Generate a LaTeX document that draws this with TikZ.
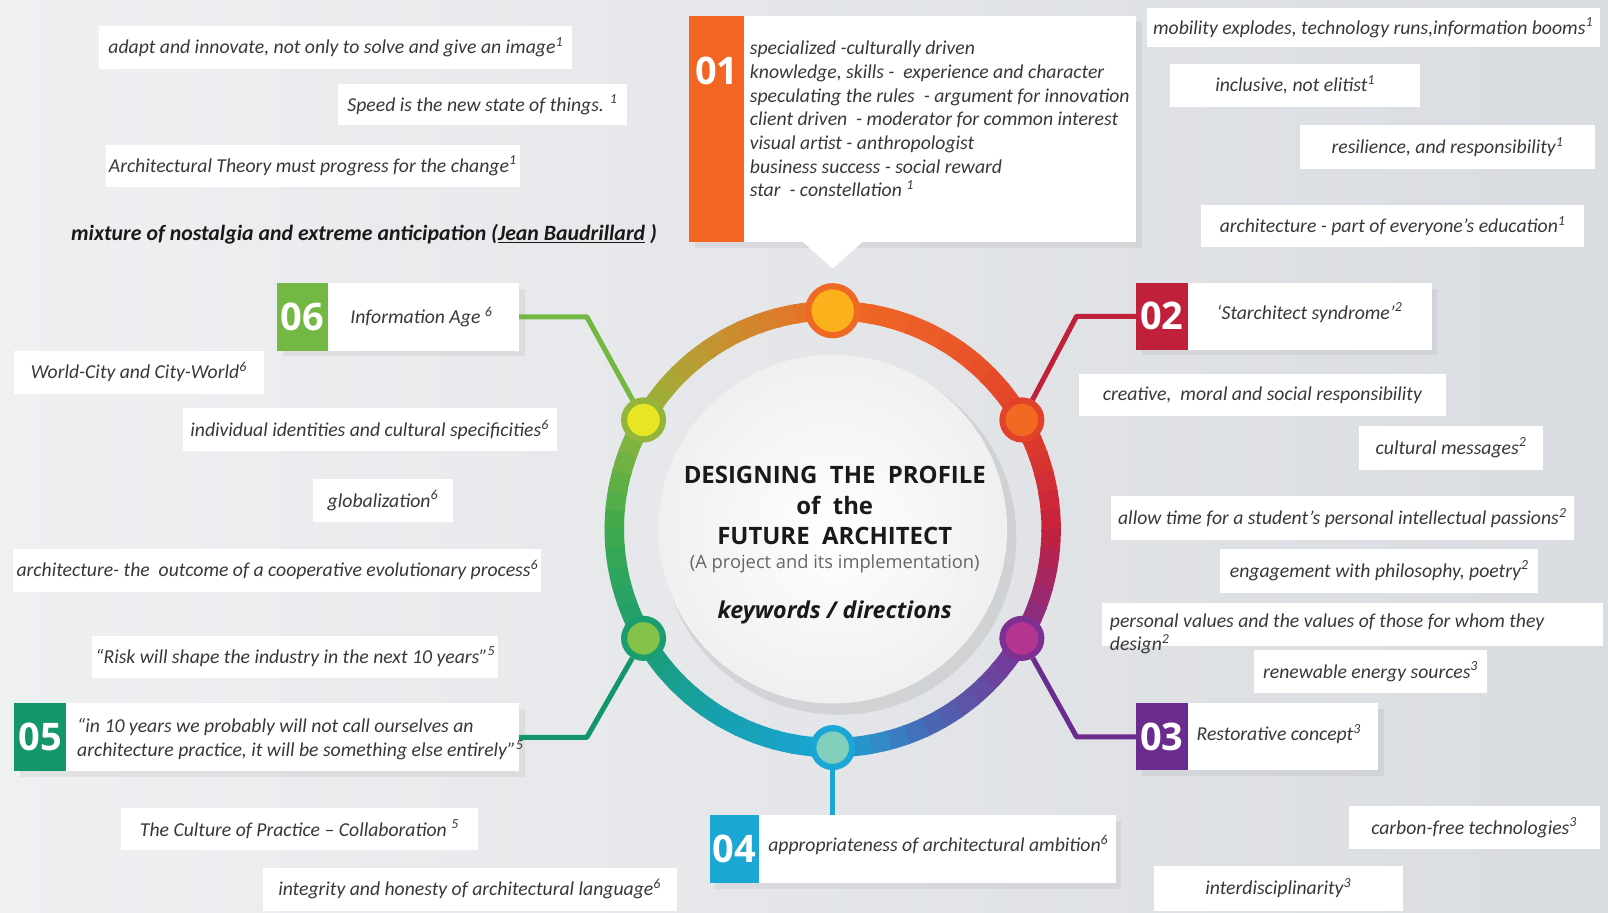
\documentclass[tikz,border=0pt]{standalone}
\usepackage{fontspec}
\setmainfont{Carlito}
\newfontfamily\titlefont{Open Sans}
\usetikzlibrary{shadows}

\definecolor{bgL}{HTML}{EFF0F2}
\definecolor{bgR}{HTML}{D9DCE0}
\definecolor{ink}{HTML}{383838}
\definecolor{c01}{HTML}{F26522}
\definecolor{c02}{HTML}{C1203A}
\definecolor{c03}{HTML}{6A2C8F}
\definecolor{c04}{HTML}{1AA7D4}
\definecolor{c05}{HTML}{14966C}
\definecolor{c06}{HTML}{73B843}
% ring colours, by angle
\definecolor{r090}{HTML}{EE6A24}
\definecolor{r060}{HTML}{EC5A28}
\definecolor{r030}{HTML}{E2412A}
\definecolor{r000}{HTML}{C5203C}
\definecolor{r330}{HTML}{7E3092}
\definecolor{r300}{HTML}{5060B0}
\definecolor{r270}{HTML}{1AA6D6}
\definecolor{r240}{HTML}{17A0B0}
\definecolor{r210}{HTML}{1A9E70}
\definecolor{r180}{HTML}{3DAA4D}
\definecolor{r150}{HTML}{93B63A}
\definecolor{r120}{HTML}{C89030}
% dot fillings
\definecolor{f01}{HTML}{FBB11C}
\definecolor{f02}{HTML}{F26A22}
\definecolor{f03}{HTML}{B4358F}
\definecolor{f04}{HTML}{7FCFBA}
\definecolor{f05}{HTML}{84C24A}
\definecolor{f06}{HTML}{E8E524}

\def\u{0.0256cm}

\begin{document}
\begin{tikzpicture}[x=0.0256cm, y=0.0256cm,
	kbox/.style={fill=white, inner sep=0pt, text=ink,
		font=\fontsize{14}{16}\selectfont\itshape},
	ktext/.style={inner sep=0pt, text=ink, align=left,
		font=\fontsize{14}{16.8}\selectfont\itshape},
	nbox/.style={fill=white, inner sep=0pt,
		drop shadow={opacity=0.12, shadow xshift=4pt, shadow yshift=-4pt}},
	nsq/.style={inner sep=0pt, anchor=north west, text=white,
		font=\titlefont\bfseries\fontsize{27}{27}\selectfont},
	link/.style={line width=3.6pt, line join=round},
	dot/.style={circle, inner sep=0pt, line width=4.4pt, minimum size=27.6pt}]

	% background
	\shade[left color=bgL, right color=bgR] (0,0) rectangle (1568,890);
	\useasboundingbox (0,0) rectangle (1568,890);

	% keywords, top left
	\node[kbox, minimum width=461*\u, minimum height=42*\u] (a1) at (327.5,844) {adapt and innovate, not only to solve and give an image\textsuperscript{1}};
	\node[kbox, minimum width=281*\u, minimum height=40*\u] (a2) at (470.5,788) {Speed is the new state of things. \textsuperscript{1}};
	\node[kbox, minimum width=404*\u, minimum height=41*\u] (a3) at (305,728.5) {Architectural Theory must progress for the change\textsuperscript{1}};
	\node[inner sep=0pt, text=black!90, font=\fontsize{15.5}{17}\selectfont\bfseries\itshape] (a4) at (355,662) {mixture of nostalgia and extreme anticipation (\underline{Jean Baudrillard} )};

	% keywords, top right
	\node[kbox, minimum width=442*\u, minimum height=38*\u] (b1) at (1339,863) {mobility explodes, technology runs,information booms\textsuperscript{1}};
	\node[kbox, minimum width=244*\u, minimum height=42*\u] (b2) at (1263,807) {inclusive, not elitist\textsuperscript{1}};
	\node[kbox, minimum width=287*\u, minimum height=43*\u] (b3) at (1411.5,746.5) {resilience, and responsibility\textsuperscript{1}};
	\node[kbox, minimum width=374*\u, minimum height=41*\u] (b4) at (1358,669.5) {architecture - part of everyone’s education\textsuperscript{1}};

	% keywords, right
	\node[kbox, minimum width=358*\u, minimum height=41*\u] (c1) at (1231,504.5) {creative,\ \ moral and social responsibility};
	\node[kbox, minimum width=180*\u, minimum height=43*\u] (c2) at (1415,453.5) {cultural messages\textsuperscript{2}};
	\node[kbox, minimum width=452*\u, minimum height=43*\u] (c3) at (1309,384.5) {allow time for a student’s personal intellectual passions\textsuperscript{2}};
	\node[kbox, minimum width=310*\u, minimum height=43*\u] (c4) at (1345,333.5) {engagement with philosophy, poetry\textsuperscript{2}};
	\node[kbox, minimum width=488*\u, minimum height=42*\u] (c5) at (1319,281) {};
	\node[ktext, anchor=north west] (c5t) at (1082,292) {personal values and the values of those for whom they\\design\textsuperscript{2}};
	\node[kbox, minimum width=227*\u, minimum height=42*\u] (c6) at (1336.5,235) {renewable energy sources\textsuperscript{3}};

	% keywords, bottom right
	\node[kbox, minimum width=245*\u, minimum height=42*\u] (d1) at (1437.5,83) {carbon-free technologies\textsuperscript{3}};
	\node[kbox, minimum width=243*\u, minimum height=44*\u] (d2) at (1246.5,24) {interdisciplinarity\textsuperscript{3}};

	% keywords, bottom left
	\node[kbox, minimum width=396*\u, minimum height=41*\u] (e3) at (288,249.5) {“Risk will shape the industry in the next 10 years”\textsuperscript{5}};
	\node[kbox, minimum width=348*\u, minimum height=41*\u] (e1) at (292,81.5) {The Culture of Practice – Collaboration \textsuperscript{5}};
	\node[kbox, minimum width=404*\u, minimum height=42*\u] (e2) at (458,23) {integrity and honesty of architectural language\textsuperscript{6}};

	% keywords, left
	\node[kbox, minimum width=243*\u, minimum height=42*\u] (f1) at (135.5,527) {World-City and City-World\textsuperscript{6}};
	\node[kbox, minimum width=365*\u, minimum height=42*\u] (f2) at (360.5,471) {individual identities and cultural specificities\textsuperscript{6}};
	\node[kbox, minimum width=137*\u, minimum height=42*\u] (f3) at (373.5,402) {globalization\textsuperscript{6}};
	\node[kbox, minimum width=515*\u, minimum height=42*\u] (f4) at (270.5,334) {architecture- the\ \ outcome of a cooperative evolutionary process\textsuperscript{6}};

	% numbered boxes
	\node[nbox, minimum width=436*\u, minimum height=220*\u] (b01) at (890,764) {};
	\fill[white] (782,655) -- (812,628) -- (842,655) -- cycle;
	\node[nsq, fill=c01, minimum width=53*\u, minimum height=220*\u] (n01) at (b01.north west) {};
	\node[nsq, anchor=center] (t01) at (699,821) {01};
	\node[ktext, anchor=north west] (l01) at (731,850) {specialized -culturally driven\\
		knowledge, skills -\ \ experience and character\\
		speculating the rules\ \ - argument for innovation\\
		client driven\ \ - moderator for common interest\\
		visual artist - anthropologist\\
		business success - social reward\\
		star\ \ - constellation \textsuperscript{1}};

	\node[nbox, minimum width=288*\u, minimum height=65*\u] (b02) at (1252,581.5) {};
	\node[nsq, fill=c02, minimum width=50*\u, minimum height=65*\u] (n02) at (b02.north west) {02};
	\node[ktext] (t02) at (1277,585) {‘Starchitect syndrome’\textsuperscript{2}};

	\node[nbox, minimum width=236*\u, minimum height=65*\u] (b03) at (1226,171.5) {};
	\node[nsq, fill=c03, minimum width=50*\u, minimum height=65*\u] (n03) at (b03.north west) {03};
	\node[ktext] (t03) at (1247,174) {Restorative concept\textsuperscript{3}};

	\node[nbox, minimum width=396*\u, minimum height=66*\u] (b04) at (890,62) {};
	\node[nsq, fill=c04, minimum width=48*\u, minimum height=66*\u] (n04) at (b04.north west) {04};
	\node[ktext] (t04) at (915,66) {appropriateness of architectural ambition\textsuperscript{6}};

	\node[nbox, minimum width=492*\u, minimum height=66*\u] (b05) at (260,171) {};
	\node[nsq, fill=c05, minimum width=50*\u, minimum height=66*\u] (n05) at (b05.north west) {05};
	\node[ktext, anchor=west] (t05) at (75,169) {“in 10 years we probably will not call ourselves an\\
		architecture practice, it will be something else entirely”\textsuperscript{5}};

	\node[nbox, minimum width=236*\u, minimum height=66*\u] (b06) at (388,581) {};
	\node[nsq, fill=c06, minimum width=50*\u, minimum height=66*\u] (n06) at (b06.north west) {06};
	\node[ktext] (t06) at (411,581) {Information Age\ \textsuperscript{6}};

	% centre disc and ring
	\begin{scope}[shift={(812,374)}]
		\fill[black, opacity=0.08] (6,-8) circle[radius=173];
		\shade[inner color=white, outer color=black!6] (0,0) circle[radius=170];
		\foreach \a/\b/\ca/\cb in {90/60/r090/r060, 60/30/r060/r030, 30/0/r030/r000,
				0/-30/r000/r330, -30/-60/r330/r300, -60/-90/r300/r270,
				-90/-120/r270/r240, -120/-150/r240/r210, -150/-180/r210/r180,
				-180/-210/r180/r150, -210/-240/r150/r120, -240/-270/r120/r090}{
			\foreach \k in {0,...,5}{
				\pgfmathsetmacro\s{\a+(\b-\a)*\k/6}
				\pgfmathsetmacro\e{\a+(\b-\a)*(\k+1.15)/6}
				\pgfmathtruncatemacro\p{(\k+0.5)*100/6}
				\draw[line width=13.8pt, \cb!\p!\ca] (\s:213) arc[start angle=\s, end angle=\e, radius=213];
			}
		}
		\node[dot, draw=r090, fill=f01, minimum size=34.8pt] (d01) at (90:213) {};
		\node[dot, draw=r030, fill=f02] (d02) at (30:213) {};
		\node[dot, draw=r330, fill=f03] (d03) at (-30:213) {};
		\node[dot, draw=r270, fill=f04] (d04) at (-90:213) {};
		\node[dot, draw=r210, fill=f05] (d05) at (-150:213) {};
		\node[dot, draw=r150, fill=f06] (d06) at (150:213) {};
	\end{scope}

	% title
	\node[align=center, inner sep=0pt, text=black!90, font=\titlefont\bfseries\fontsize{17}{21.8}\selectfont] (title) at (814,397) {DESIGNING\ \ THE\ \ PROFILE\\ of\ \ the\\ FUTURE\ \ ARCHITECT};
	\node[inner sep=0pt, text=black!60, font=\titlefont\fontsize{13}{15}\selectfont] (sub) at (814,340) {(A project and its implementation)};
	\node[inner sep=0pt, text=black!90, font=\titlefont\bfseries\itshape\fontsize{16.5}{19}\selectfont] (kw) at (814,293) {keywords / directions};

	% connectors
	\draw[link, c06] (b06.east) -- ++(66,0) -- (d06);
	\draw[link, c02] (b02.west) -- ++(-58,0) -- (d02);
	\draw[link, c05] (b05.east) -- ++(66,0) -- (d05);
	\draw[link, c03] (b03.west) -- ++(-58,0) -- (d03);
	\draw[link, c04] (d04) -- (d04 |- b04.north);
\end{tikzpicture}
\end{document}
